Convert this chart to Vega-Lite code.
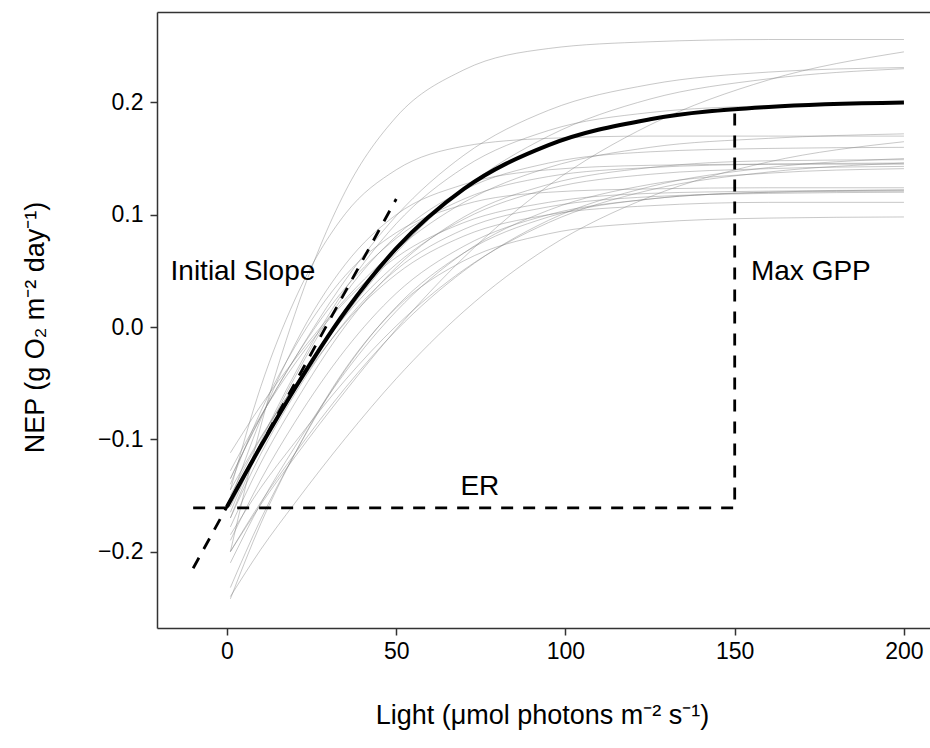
{
 "$schema": "https://vega.github.io/schema/vega-lite/v6.json",
 "width": 773,
 "height": 616,
 "autosize": {"type": "none"},
 "padding": {"left": 157, "top": 12, "right": 0, "bottom": 120},
 "background": "white",
 "config": {
  "view": {"stroke": null},
  "font": "Liberation Sans",
  "axis": {
   "grid": false,
   "domainColor": "#333333",
   "domainWidth": 1.5,
   "tickColor": "#333333",
   "tickWidth": 1.5,
   "tickSize": 7,
   "labelFont": "Liberation Sans",
   "labelFontSize": 23,
   "labelColor": "#000000",
   "titleFont": "Liberation Sans",
   "titleFontSize": 27,
   "titleFontWeight": "normal",
   "titleColor": "#000000"
  }
 },
 "datasets": {
  "grey": [
   {"c":1,"x":1,"y":-0.200},{"c":1,"x":10,"y":-0.088},{"c":1,"x":20,"y":0.011},{"c":1,"x":35,"y":0.121},{"c":1,"x":50,"y":0.187},{"c":1,"x":70,"y":0.229},{"c":1,"x":95,"y":0.248},{"c":1,"x":125,"y":0.254},{"c":1,"x":160,"y":0.256},{"c":1,"x":200,"y":0.256},
   {"c":2,"x":1,"y":-0.200},{"c":2,"x":10,"y":-0.158},{"c":2,"x":20,"y":-0.116},{"c":2,"x":35,"y":-0.057},{"c":2,"x":50,"y":-0.002},{"c":2,"x":70,"y":0.062},{"c":2,"x":95,"y":0.126},{"c":2,"x":125,"y":0.180},{"c":2,"x":160,"y":0.220},{"c":2,"x":200,"y":0.245},
   {"c":3,"x":1,"y":-0.240},{"c":3,"x":10,"y":-0.198},{"c":3,"x":20,"y":-0.157},{"c":3,"x":35,"y":-0.099},{"c":3,"x":50,"y":-0.046},{"c":3,"x":70,"y":0.014},{"c":3,"x":95,"y":0.071},{"c":3,"x":125,"y":0.116},{"c":3,"x":160,"y":0.147},{"c":3,"x":200,"y":0.165},
   {"c":4,"x":1,"y":-0.135},{"c":4,"x":10,"y":-0.080},{"c":4,"x":20,"y":-0.028},{"c":4,"x":35,"y":0.042},{"c":4,"x":50,"y":0.099},{"c":4,"x":70,"y":0.153},{"c":4,"x":95,"y":0.193},{"c":4,"x":125,"y":0.216},{"c":4,"x":160,"y":0.227},{"c":4,"x":200,"y":0.231},
   {"c":5,"x":1,"y":-0.145},{"c":5,"x":10,"y":-0.098},{"c":5,"x":20,"y":-0.052},{"c":5,"x":35,"y":0.011},{"c":5,"x":50,"y":0.066},{"c":5,"x":70,"y":0.123},{"c":5,"x":95,"y":0.170},{"c":5,"x":125,"y":0.203},{"c":5,"x":160,"y":0.221},{"c":5,"x":200,"y":0.230},
   {"c":6,"x":1,"y":-0.165},{"c":6,"x":10,"y":-0.102},{"c":6,"x":20,"y":-0.042},{"c":6,"x":35,"y":0.034},{"c":6,"x":50,"y":0.092},{"c":6,"x":70,"y":0.142},{"c":6,"x":95,"y":0.175},{"c":6,"x":125,"y":0.191},{"c":6,"x":160,"y":0.197},{"c":6,"x":200,"y":0.199},
   {"c":7,"x":1,"y":-0.112},{"c":7,"x":10,"y":-0.070},{"c":7,"x":20,"y":-0.029},{"c":7,"x":35,"y":0.025},{"c":7,"x":50,"y":0.069},{"c":7,"x":70,"y":0.111},{"c":7,"x":95,"y":0.142},{"c":7,"x":125,"y":0.160},{"c":7,"x":160,"y":0.168},{"c":7,"x":200,"y":0.172},
   {"c":8,"x":1,"y":-0.170},{"c":8,"x":10,"y":-0.105},{"c":8,"x":20,"y":-0.045},{"c":8,"x":35,"y":0.030},{"c":8,"x":50,"y":0.081},{"c":8,"x":70,"y":0.122},{"c":8,"x":95,"y":0.146},{"c":8,"x":125,"y":0.156},{"c":8,"x":160,"y":0.159},{"c":8,"x":200,"y":0.160},
   {"c":9,"x":1,"y":-0.178},{"c":9,"x":10,"y":-0.121},{"c":9,"x":20,"y":-0.068},{"c":9,"x":35,"y":0.001},{"c":9,"x":50,"y":0.053},{"c":9,"x":70,"y":0.098},{"c":9,"x":95,"y":0.127},{"c":9,"x":125,"y":0.142},{"c":9,"x":160,"y":0.148},{"c":9,"x":200,"y":0.149},
   {"c":10,"x":1,"y":-0.135},{"c":10,"x":10,"y":-0.080},{"c":10,"x":20,"y":-0.028},{"c":10,"x":35,"y":0.035},{"c":10,"x":50,"y":0.079},{"c":10,"x":70,"y":0.114},{"c":10,"x":95,"y":0.134},{"c":10,"x":125,"y":0.142},{"c":10,"x":160,"y":0.145},{"c":10,"x":200,"y":0.146},
   {"c":11,"x":1,"y":-0.150},{"c":11,"x":10,"y":-0.099},{"c":11,"x":20,"y":-0.052},{"c":11,"x":35,"y":0.010},{"c":11,"x":50,"y":0.056},{"c":11,"x":70,"y":0.096},{"c":11,"x":95,"y":0.123},{"c":11,"x":125,"y":0.136},{"c":11,"x":160,"y":0.141},{"c":11,"x":200,"y":0.143},
   {"c":12,"x":1,"y":-0.210},{"c":12,"x":10,"y":-0.157},{"c":12,"x":20,"y":-0.107},{"c":12,"x":35,"y":-0.040},{"c":12,"x":50,"y":0.014},{"c":12,"x":70,"y":0.066},{"c":12,"x":95,"y":0.104},{"c":12,"x":125,"y":0.127},{"c":12,"x":160,"y":0.137},{"c":12,"x":200,"y":0.141},
   {"c":13,"x":1,"y":-0.140},{"c":13,"x":10,"y":-0.075},{"c":13,"x":20,"y":-0.018},{"c":13,"x":35,"y":0.046},{"c":13,"x":50,"y":0.084},{"c":13,"x":70,"y":0.109},{"c":13,"x":95,"y":0.120},{"c":13,"x":125,"y":0.123},{"c":13,"x":160,"y":0.124},{"c":13,"x":200,"y":0.124},
   {"c":14,"x":1,"y":-0.190},{"c":14,"x":10,"y":-0.136},{"c":14,"x":20,"y":-0.085},{"c":14,"x":35,"y":-0.020},{"c":14,"x":50,"y":0.030},{"c":14,"x":70,"y":0.072},{"c":14,"x":95,"y":0.100},{"c":14,"x":125,"y":0.114},{"c":14,"x":160,"y":0.120},{"c":14,"x":200,"y":0.121},
   {"c":15,"x":1,"y":-0.232},{"c":15,"x":10,"y":-0.171},{"c":15,"x":20,"y":-0.113},{"c":15,"x":35,"y":-0.038},{"c":15,"x":50,"y":0.018},{"c":15,"x":70,"y":0.066},{"c":15,"x":95,"y":0.098},{"c":15,"x":125,"y":0.114},{"c":15,"x":160,"y":0.120},{"c":15,"x":200,"y":0.122},
   {"c":16,"x":1,"y":-0.160},{"c":16,"x":10,"y":-0.106},{"c":16,"x":20,"y":-0.057},{"c":16,"x":35,"y":0.004},{"c":16,"x":50,"y":0.047},{"c":16,"x":70,"y":0.081},{"c":16,"x":95,"y":0.100},{"c":16,"x":125,"y":0.108},{"c":16,"x":160,"y":0.111},{"c":16,"x":200,"y":0.111},
   {"c":17,"x":1,"y":-0.242},{"c":17,"x":10,"y":-0.175},{"c":17,"x":20,"y":-0.113},{"c":17,"x":35,"y":-0.037},{"c":17,"x":50,"y":0.017},{"c":17,"x":70,"y":0.059},{"c":17,"x":95,"y":0.083},{"c":17,"x":125,"y":0.093},{"c":17,"x":160,"y":0.097},{"c":17,"x":200,"y":0.098},
   {"c":18,"x":1,"y":-0.128},{"c":18,"x":10,"y":-0.079},{"c":18,"x":20,"y":-0.033},{"c":18,"x":35,"y":0.023},{"c":18,"x":50,"y":0.062},{"c":18,"x":70,"y":0.093},{"c":18,"x":95,"y":0.111},{"c":18,"x":125,"y":0.119},{"c":18,"x":160,"y":0.121},{"c":18,"x":200,"y":0.122},
   {"c":19,"x":1,"y":-0.155},{"c":19,"x":10,"y":-0.082},{"c":19,"x":20,"y":-0.016},{"c":19,"x":35,"y":0.056},{"c":19,"x":50,"y":0.100},{"c":19,"x":70,"y":0.127},{"c":19,"x":95,"y":0.140},{"c":19,"x":125,"y":0.144},{"c":19,"x":160,"y":0.145},{"c":19,"x":200,"y":0.145},
   {"c":20,"x":1,"y":-0.200},{"c":20,"x":10,"y":-0.156},{"c":20,"x":20,"y":-0.113},{"c":20,"x":35,"y":-0.054},{"c":20,"x":50,"y":-0.003},{"c":20,"x":70,"y":0.050},{"c":20,"x":95,"y":0.095},{"c":20,"x":125,"y":0.125},{"c":20,"x":160,"y":0.142},{"c":20,"x":200,"y":0.150},
   {"c":21,"x":1,"y":-0.170},{"c":21,"x":10,"y":-0.113},{"c":21,"x":20,"y":-0.060},{"c":21,"x":35,"y":0.005},{"c":21,"x":50,"y":0.051},{"c":21,"x":70,"y":0.087},{"c":21,"x":95,"y":0.107},{"c":21,"x":125,"y":0.116},{"c":21,"x":160,"y":0.119},{"c":21,"x":200,"y":0.120},
   {"c":22,"x":1,"y":-0.145},{"c":22,"x":10,"y":-0.053},{"c":22,"x":20,"y":0.024},{"c":22,"x":35,"y":0.101},{"c":22,"x":50,"y":0.140},{"c":22,"x":70,"y":0.161},{"c":22,"x":95,"y":0.168},{"c":22,"x":125,"y":0.170},{"c":22,"x":160,"y":0.170},{"c":22,"x":200,"y":0.170},
   {"c":23,"x":1,"y":-0.185},{"c":23,"x":10,"y":-0.143},{"c":23,"x":20,"y":-0.103},{"c":23,"x":35,"y":-0.047},{"c":23,"x":50,"y":0.001},{"c":23,"x":70,"y":0.051},{"c":23,"x":95,"y":0.093},{"c":23,"x":125,"y":0.122},{"c":23,"x":160,"y":0.138},{"c":23,"x":200,"y":0.146}
  ],
  "main": [
   {"x":0,"y":-0.160},{"x":10,"y":-0.106},{"x":20,"y":-0.055},{"x":35,"y":0.014},{"x":50,"y":0.070},{"x":70,"y":0.123},{"x":95,"y":0.162},{"x":125,"y":0.185},{"x":160,"y":0.196},{"x":200,"y":0.200}
  ],
  "dash": [
   {"seg":"slope","o":1,"x":-10,"y":-0.2148},{"seg":"slope","o":2,"x":50,"y":0.114},
   {"seg":"er","o":1,"x":-10,"y":-0.161},{"seg":"er","o":2,"x":150,"y":-0.161},{"seg":"er","o":3,"x":150,"y":0.194}
  ],
  "labels": [
   {"label":"Initial Slope","x":4.7,"y":0.049},
   {"label":"Max GPP","x":172.5,"y":0.049},
   {"label":"ER","x":74.7,"y":-0.1425}
  ]
 },
 "layer": [
  {
   "data": {"name": "grey"},
   "mark": {"type": "line", "interpolate": "monotone", "stroke": "#7f7f7f", "strokeOpacity": 0.43, "strokeWidth": 1, "clip": true},
   "encoding": {
    "x": {"field": "x", "type": "quantitative", "scale": {"domain": [-20.68, 207.7], "nice": false, "zero": false},
     "axis": {"orient": "bottom", "values": [0, 50, 100, 150, 200], "labelPadding": 5, "title": "Light (μmol photons m⁻² s⁻¹)", "titleX": 385, "titleY": 87, "titleAlign": "center", "titleBaseline": "middle"}},
    "y": {"field": "y", "type": "quantitative", "scale": {"domain": [-0.268, 0.2805], "nice": false, "zero": false},
     "axis": {"values": [-0.2, -0.1, 0, 0.1, 0.2], "format": ".1f", "labelPadding": 7, "title": "NEP (g O₂ m⁻² day⁻¹)", "titleX": -122, "titleY": 315, "titleAlign": "center", "titleBaseline": "middle"}},
    "detail": {"field": "c", "type": "nominal"}
   }
  },
  {
   "data": {"name": "main"},
   "mark": {"type": "line", "interpolate": "monotone", "stroke": "#000000", "strokeWidth": 4, "clip": true},
   "encoding": {
    "x": {"field": "x", "type": "quantitative", "axis": null},
    "y": {"field": "y", "type": "quantitative"}
   }
  },
  {
   "data": {"name": "dash"},
   "mark": {"type": "line", "stroke": "#000000", "strokeWidth": 2.8, "strokeDash": [12, 10], "clip": true},
   "encoding": {
    "x": {"field": "x", "type": "quantitative", "axis": null},
    "y": {"field": "y", "type": "quantitative"},
    "detail": {"field": "seg", "type": "nominal"},
    "order": {"field": "o", "type": "quantitative"}
   }
  },
  {
   "data": {"name": "labels"},
   "mark": {"type": "text", "fontSize": 28, "font": "Liberation Sans", "color": "#000000", "align": "center", "baseline": "middle"},
   "encoding": {
    "x": {"field": "x", "type": "quantitative", "axis": {"orient": "top", "labels": false, "ticks": false, "title": null, "domainColor": "#333333", "domainWidth": 1.5}},
    "y": {"field": "y", "type": "quantitative"},
    "text": {"field": "label", "type": "nominal"}
   }
  }
 ],
 "resolve": {"axis": {"x": "independent"}}
}
